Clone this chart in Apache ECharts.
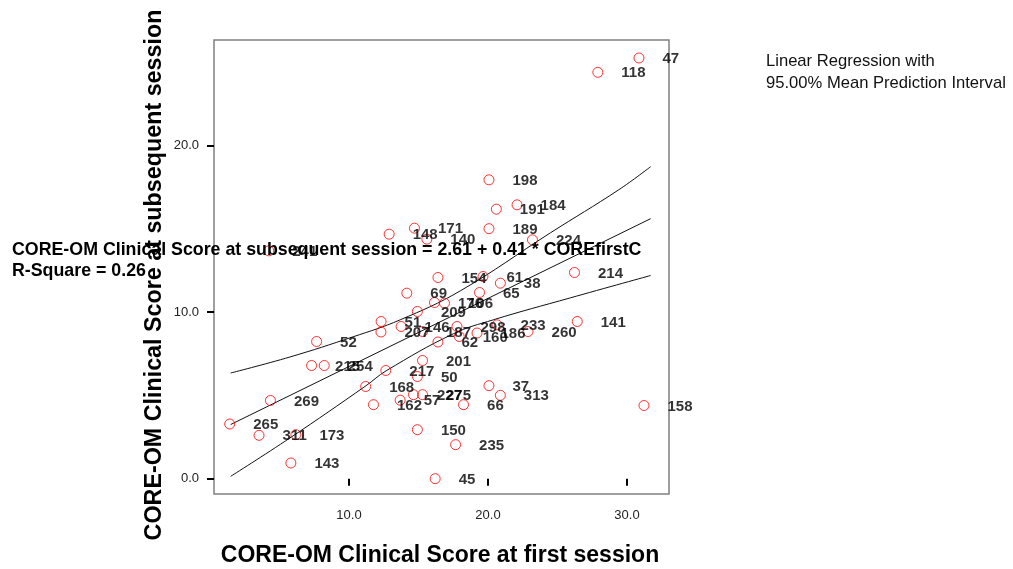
<!DOCTYPE html>
<html>
<head>
<meta charset="utf-8">
<script src="https://cdn.jsdelivr.net/npm/echarts@6/dist/echarts.min.js"></script>
<style>
html,body{margin:0;padding:0;background:#fff;}
#chart{width:1013px;height:569px;}
</style>
</head>
<body>
<div id="chart"></div>
<script>
// Case numbers shown next to each point
const caseIds = ['47','118','198','191','184','148','171','140','189','224','241','154','61','38','65','214','69','176','106','209','51','146','207','187','62','298','160','186','233','260','141','52','215','254','201','217','50','168','37','313','269','162','57','227','275','66','158','265','311','173','150','235','143','45'];
// CORE-OM Clinical Score at first session
const firstSession = [30.86,27.90,20.07,20.60,22.09,12.89,14.71,15.60,20.07,23.20,4.23,16.40,19.64,20.89,19.39,26.22,14.16,16.15,16.87,14.92,12.31,13.75,12.30,15.29,16.40,17.77,17.93,19.21,20.65,22.88,26.42,7.67,7.31,8.22,15.29,12.65,14.92,11.20,20.07,20.89,4.35,11.76,13.68,14.64,15.29,18.24,31.22,1.42,3.53,6.18,14.92,17.67,5.82,16.20];
// CORE-OM Clinical Score at subsequent session
const subsequentSession = [25.24,24.38,17.93,16.17,16.43,14.67,15.03,14.37,15.00,14.33,13.67,12.07,12.13,11.73,11.17,12.37,11.13,10.57,10.53,10.03,9.43,9.13,8.80,8.83,8.20,9.13,8.53,8.74,9.23,8.83,9.43,8.23,6.79,6.79,7.09,6.49,6.13,5.53,5.58,5.00,4.69,4.44,4.71,5.04,5.04,4.44,4.39,3.28,2.60,2.64,2.94,2.04,0.94,0.00];

// Fitted line and 95% mean prediction interval
const fitX = [1.49, 31.70];
const fitY = [3.25, 15.60];
const upperX = [1.49, 5.75, 10.29, 13.68, 18.01, 24.49, 29.40, 31.70];
const upperY = [6.34, 7.30, 8.51, 9.53, 11.27, 14.75, 17.33, 18.72];
const lowerX = [1.49, 5.75, 11.23, 12.67, 17.50, 20.38, 25.93, 31.70];
const lowerY = [0.14, 2.44, 5.58, 6.47, 8.69, 9.53, 10.85, 12.19];

const xTicks = [10, 20, 30];
const yTicks = [0, 10, 20];

const xTitle = 'CORE-OM Clinical Score at first session';
const yTitle = 'CORE-OM Clinical Score at subsequent session';
const equationText = 'CORE-OM Clinical Score at subsequent session = 2.61 + 0.41 * COREfirstC';
const rSquareText = 'R-Square = 0.26';
const legendLines = ['Linear Regression with', '95.00% Mean Prediction Interval'];

const FONT = '"Liberation Sans", Arial, sans-serif';

const pts = firstSession.map((x, i) => ({ value: [x, subsequentSession[i]], name: caseIds[i] }));
const pairs = (xs, ys) => xs.map((x, i) => [x, ys[i]]);

const chart = echarts.init(document.getElementById('chart'), null, { renderer: 'canvas' });
chart.setOption({
  animation: false,
  backgroundColor: '#ffffff',
  grid: {
    left: 214, right: 344, top: 40, bottom: 75,
    show: true, borderColor: '#808080', borderWidth: 1.5, backgroundColor: 'transparent'
  },
  xAxis: {
    type: 'value', min: 0.29, max: 33.02,
    splitLine: { show: false },
    axisLine: { show: false },
    axisTick: { show: true, customValues: xTicks, length: 7, lineStyle: { color: '#000', width: 2 } },
    axisLabel: { customValues: xTicks, formatter: v => v.toFixed(1), margin: 15, fontSize: 13, color: '#222', fontFamily: FONT }
  },
  yAxis: {
    type: 'value', min: -0.92, max: 26.32,
    splitLine: { show: false },
    axisLine: { show: false },
    axisTick: { show: true, customValues: yTicks, length: 7, lineStyle: { color: '#000', width: 2 } },
    axisLabel: { customValues: yTicks, formatter: v => v.toFixed(1), margin: 15, fontSize: 13, color: '#222', fontFamily: FONT }
  },
  series: [
    {
      type: 'line', data: pairs(upperX, upperY), smooth: 0.4, showSymbol: false, symbol: 'none',
      lineStyle: { color: '#111', width: 1 }, z: 2
    },
    {
      type: 'line', data: pairs(fitX, fitY), showSymbol: false, symbol: 'none',
      lineStyle: { color: '#111', width: 1 }, z: 2
    },
    {
      type: 'line', data: pairs(lowerX, lowerY), smooth: 0.4, showSymbol: false, symbol: 'none',
      lineStyle: { color: '#111', width: 1 }, z: 2
    },
    {
      type: 'scatter', data: pts, symbol: 'circle', symbolSize: 10,
      itemStyle: { color: 'rgba(0,0,0,0)', borderColor: '#ff0000', borderWidth: 1 },
      label: {
        show: true, position: 'right', distance: 18, offset: [0, 1],
        formatter: p => p.name, color: '#000', fontWeight: 'bold', fontSize: 15, fontFamily: FONT
      },
      z: 3
    }
  ],
  graphic: [
    { type: 'text', left: 12, top: 241, z: 10, style: { text: equationText, font: 'bold 17.8px ' + FONT, fill: '#000' } },
    { type: 'text', left: 12, top: 262, z: 10, style: { text: rSquareText, font: 'bold 17.8px ' + FONT, fill: '#000' } },
    { type: 'text', left: 766, top: 53, z: 10, style: { text: legendLines[0], font: '16.6px ' + FONT, fill: '#111' } },
    { type: 'text', left: 766, top: 75, z: 10, style: { text: legendLines[1], font: '16.6px ' + FONT, fill: '#111' } },
    { type: 'text', x: 440, y: 556, z: 10, style: { text: xTitle, font: 'bold 23px ' + FONT, fill: '#000', align: 'center', verticalAlign: 'middle' } },
    { type: 'text', x: 155, y: 275, rotation: Math.PI / 2, z: 10, style: { text: yTitle, font: 'bold 23.3px ' + FONT, fill: '#000', align: 'center', verticalAlign: 'middle' } }
  ]
});
</script>
</body>
</html>
